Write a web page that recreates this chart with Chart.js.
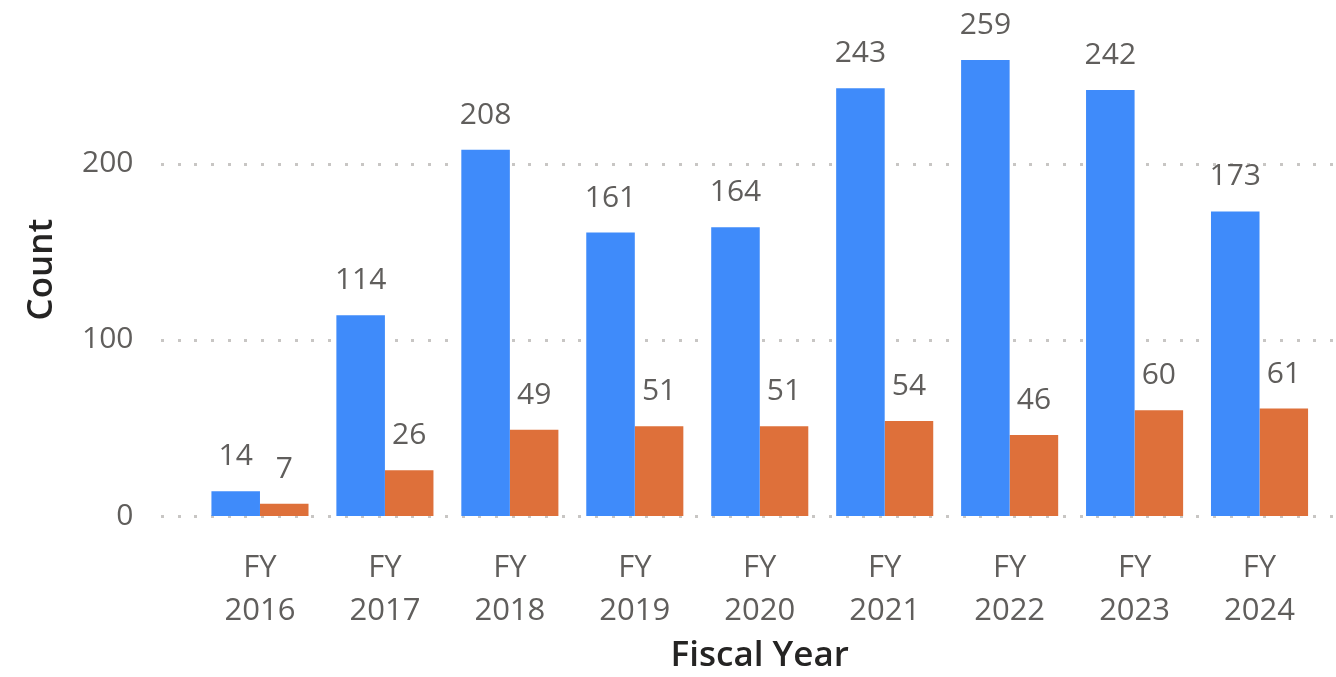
<!DOCTYPE html>
<html>
<head>
<meta charset="utf-8">
<script src="https://cdn.jsdelivr.net/npm/chart.js@4.4.1/dist/chart.umd.min.js"></script>
<style>
html,body{margin:0;padding:0;background:#fff;}
#wrap{width:1336px;height:677px;position:relative;}
</style>
</head>
<body>
<div id="wrap"><canvas id="c" width="1336" height="677"></canvas></div>
<script>
const categories = [["FY","2016"],["FY","2017"],["FY","2018"],["FY","2019"],["FY","2020"],["FY","2021"],["FY","2022"],["FY","2023"],["FY","2024"]];
const seriesBlue = [14,114,208,161,164,243,259,242,173];
const seriesOrange = [7,26,49,51,51,54,46,60,61];
const yTicks = [0,100,200];

const FONT = "'Open Sans', 'Noto Sans', sans-serif";
const labelColor = '#605E5C';

const gridPlugin = {
  id: 'dottedGrid',
  beforeDatasetsDraw(chart){
    const ctx = chart.ctx, y = chart.scales.y;
    ctx.save();
    ctx.fillStyle = '#C8C6C4';
    yTicks.forEach(v=>{
      const py = Math.round(y.getPixelForValue(v));
      for(let x=161; x<chart.width; x+=16.7){
        ctx.fillRect(Math.round(x), py-1, 3, 3);
      }
    });
    ctx.restore();
  }
};

const labelPlugin = {
  id: 'valueLabels',
  afterDatasetsDraw(chart){
    const ctx = chart.ctx;
    ctx.save();
    ctx.font = '30px ' + FONT;
    ctx.fillStyle = labelColor;
    ctx.textAlign = 'center';
    ctx.textBaseline = 'alphabetic';
    chart.data.datasets.forEach((ds,i)=>{
      const meta = chart.getDatasetMeta(i);
      meta.data.forEach((el,j)=>{
        ctx.fillText(String(ds.data[j]), el.x, el.y - 26);
      });
    });
    ctx.restore();
  }
};

new Chart(document.getElementById('c'), {
  type: 'bar',
  data: {
    labels: categories,
    datasets: [
      {label:'A', data: seriesBlue, backgroundColor:'#3F8BFA', borderWidth:0},
      {label:'B', data: seriesOrange, backgroundColor:'#DE703A', borderWidth:0}
    ]
  },
  options: {
    responsive:false,
    animation:false,
    events:[],
    layout:{padding:{left:21, right:14, top:23, bottom:0}},
    plugins:{legend:{display:false}, tooltip:{enabled:false}},
    datasets:{bar:{categoryPercentage:0.777, barPercentage:1}},
    scales:{
      x:{
        afterFit(scale){ scale.height = 161; scale.paddingLeft = 0; scale.paddingRight = 0; scale.paddingTop = 0; scale.paddingBottom = 0; },
        grid:{display:false, drawTicks:false},
        border:{display:false},
        ticks:{color:labelColor, font:{family:FONT, size:31, lineHeight:1.38}, padding:31, maxRotation:0, autoSkip:false},
        title:{display:true, text:'Fiscal Year', color:'#252423', font:{family:FONT, size:35, weight:'600'}, padding:{top:0,bottom:0}}
      },
      y:{
        min:0, max:280,
        afterBuildTicks(scale){ scale.ticks = yTicks.map(v=>({value:v})); },
        afterFit(scale){ scale.width = 176.5; scale.paddingTop = 0; scale.paddingBottom = 0; scale.paddingLeft = 0; scale.paddingRight = 0; },
        grid:{display:false, drawTicks:false},
        border:{display:false},
        ticks:{color:labelColor, font:{family:FONT, size:30}, padding:64},
        title:{display:true, text:'Count', color:'#252423', font:{family:FONT, size:35, weight:'600'}, padding:{top:0,bottom:0}}
      }
    }
  },
  plugins:[gridPlugin, labelPlugin]
});
</script>
</body>
</html>
